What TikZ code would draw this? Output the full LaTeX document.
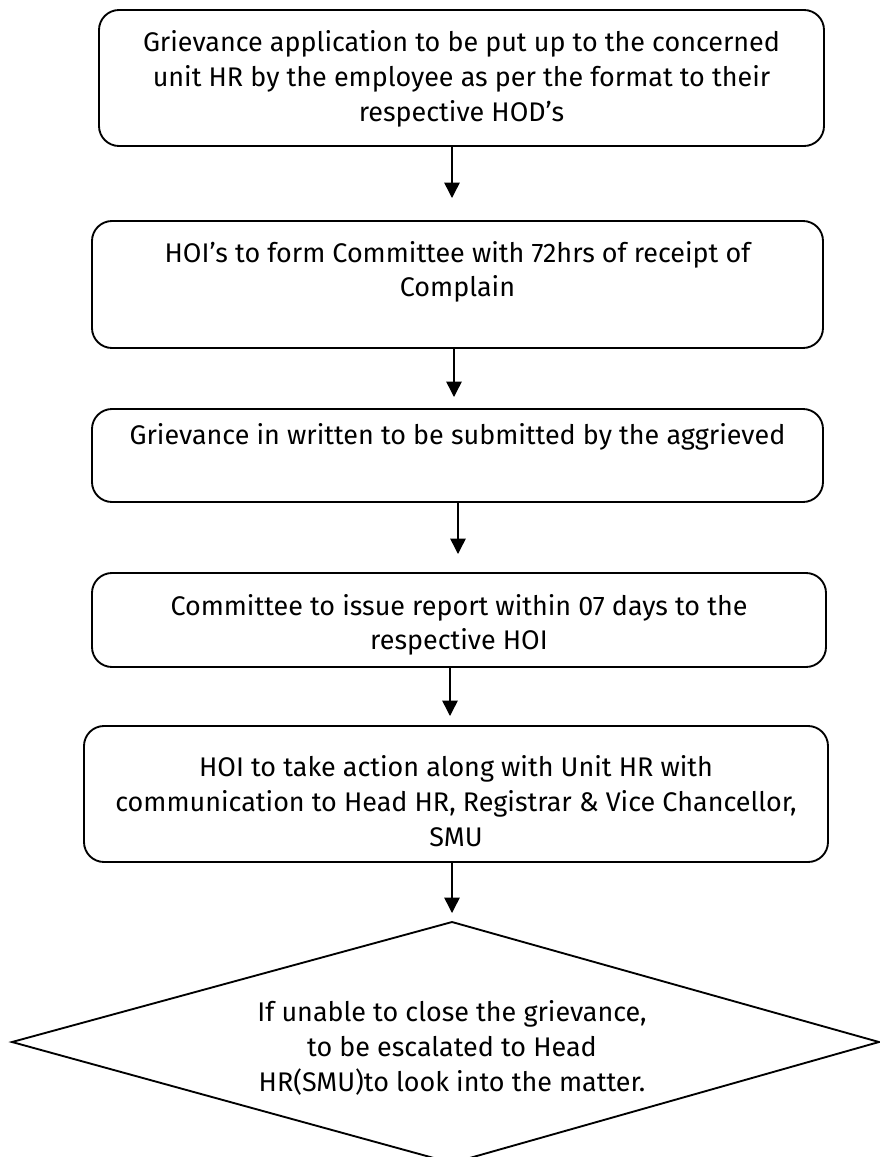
\documentclass[tikz,border=0pt]{standalone}
\usepackage{fontspec}
\setmainfont{Fira Sans}
\usetikzlibrary{arrows.meta}
\begin{document}
\begin{tikzpicture}[x=0.75pt,y=-0.75pt,
  box/.style={draw,line width=1.4pt,rounded corners=15pt,inner sep=0pt},
  txt/.style={align=center,font=\fontsize{20.2pt}{26pt}\selectfont,inner sep=0pt},
  arr/.style={line width=1.1pt,-{Triangle[width=11.5pt,length=11.5pt]}}]
\useasboundingbox (0,0) rectangle (879,1157);
% boxes
\node[box,minimum width=543.75pt,minimum height=102pt] (b1) at (461.5,78) {};
\node[box,minimum width=548.25pt,minimum height=95.25pt] (b2) at (457.5,284.5) {};
\node[box,minimum width=548.25pt,minimum height=69.75pt] (b3) at (457.5,455.5) {};
\node[box,minimum width=550.5pt,minimum height=70.5pt] (b4) at (459,620) {};
\node[box,minimum width=558pt,minimum height=102pt] (b5) at (456,794) {};
% diamond
\coordinate (dt) at (452,922);
\coordinate (dr) at (879,1042);
\coordinate (db) at (452,1163);
\coordinate (dl) at (12,1042);
\draw[line width=1.4pt] (dt) -- (dr) -- (db) -- (dl) -- cycle;
% texts
\node[txt] (t1) at (461.5,79) {Grievance application to be put up to the concerned\\unit HR by the employee as per the format to their\\respective HOD’s};
\node[txt] (t2) at (457.5,272) {HOI’s to form Committee with 72hrs of receipt of\\Complain};
\node[txt] (t3) at (457.5,437) {Grievance in written to be submitted by the aggrieved};
\node[txt] (t4) at (459,625) {Committee to issue report within 07 days to the\\respective HOI};
\node[txt] (t5) at (456,801) {HOI to take action along with Unit HR with\\communication to Head HR, Registrar \& Vice Chancellor,\\SMU};
\node[txt] (t6) at (452,1048) {If unable to close the grievance,\\to be escalated to Head\\HR(SMU)to look into the matter.};
% arrows
\coordinate (e1) at (452,198);
\coordinate (e2) at (454,397);
\coordinate (e3) at (458,554);
\coordinate (e4) at (450,716);
\coordinate (e5) at (452,913);
\draw[arr] (b1.south -| e1) -- (e1);
\draw[arr] (b2.south -| e2) -- (e2);
\draw[arr] (b3.south -| e3) -- (e3);
\draw[arr] (b4.south -| e4) -- (e4);
\draw[arr] (b5.south -| e5) -- (e5);
\end{tikzpicture}
\end{document}
